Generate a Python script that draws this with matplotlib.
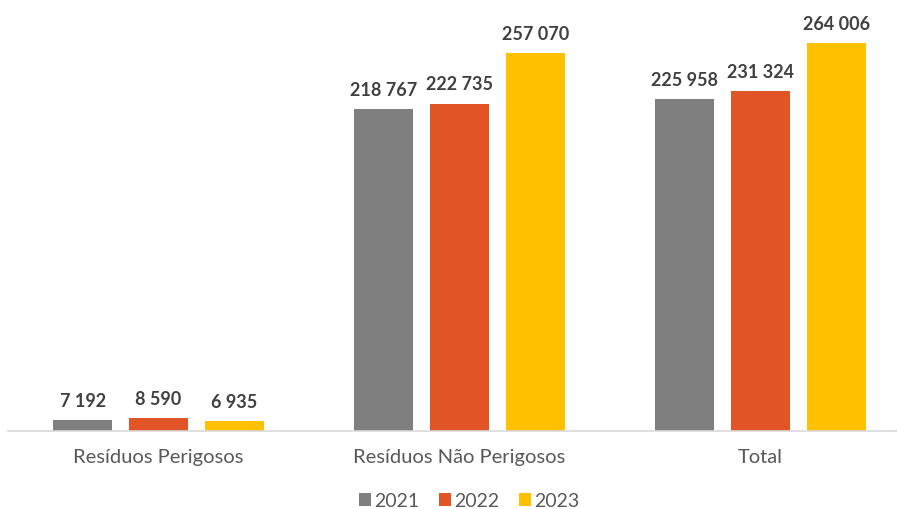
import matplotlib.pyplot as plt
import numpy as np

categories = ["Resíduos Perigosos", "Resíduos Não Perigosos", "Total"]
years = ["2021", "2022", "2023"]
v2021 = [7192, 218767, 225958]
v2022 = [8590, 222735, 231324]
v2023 = [6935, 257070, 264006]

colors = ["#7F7F7F", "#E05426", "#FFC000"]

plt.rcParams['font.family'] = ['Lato', 'DejaVu Sans']

fig = plt.figure(figsize=(8.97, 5.1), dpi=100)
# axes slightly wider than the figure so the groups sit where they do in the original
ax = fig.add_axes([8 / 897, 78 / 510, 903 / 897, 441 / 510])

x = np.arange(len(categories))
width = 0.197
step = 0.252

for i, (vals, c, yr) in enumerate(zip([v2021, v2022, v2023], colors, years)):
    bars = ax.bar(x + (i - 1) * step, vals, width, color=c, label=yr)
    for b, v in zip(bars, vals):
        ax.annotate("{:,}".format(v).replace(",", " "),
                    (b.get_x() + b.get_width() / 2, b.get_height()),
                    xytext=(0, 8), textcoords="offset points",
                    ha="center", va="bottom", fontsize=13, fontweight="bold",
                    color="#404040")

ax.set_xlim(-0.5, 2.5)
ax.set_ylim(0, 300000)
ax.set_xticks(x)
ax.set_xticklabels(categories, fontsize=14.5, color="#595959")
ax.tick_params(axis="x", length=0, pad=12)
ax.set_yticks([])
for s in ["top", "right", "left"]:
    ax.spines[s].set_visible(False)
ax.spines["bottom"].set_color("#D9D9D9")
ax.spines["bottom"].set_linewidth(1.2)

fig.legend(loc="lower center", bbox_to_anchor=(0.523, -0.035), ncol=3, frameon=False,
           fontsize=14, labelcolor="#595959", handlelength=0.65, handleheight=0.65,
           handletextpad=0.15, columnspacing=1.0)

fig.savefig("out.png", dpi=100)
